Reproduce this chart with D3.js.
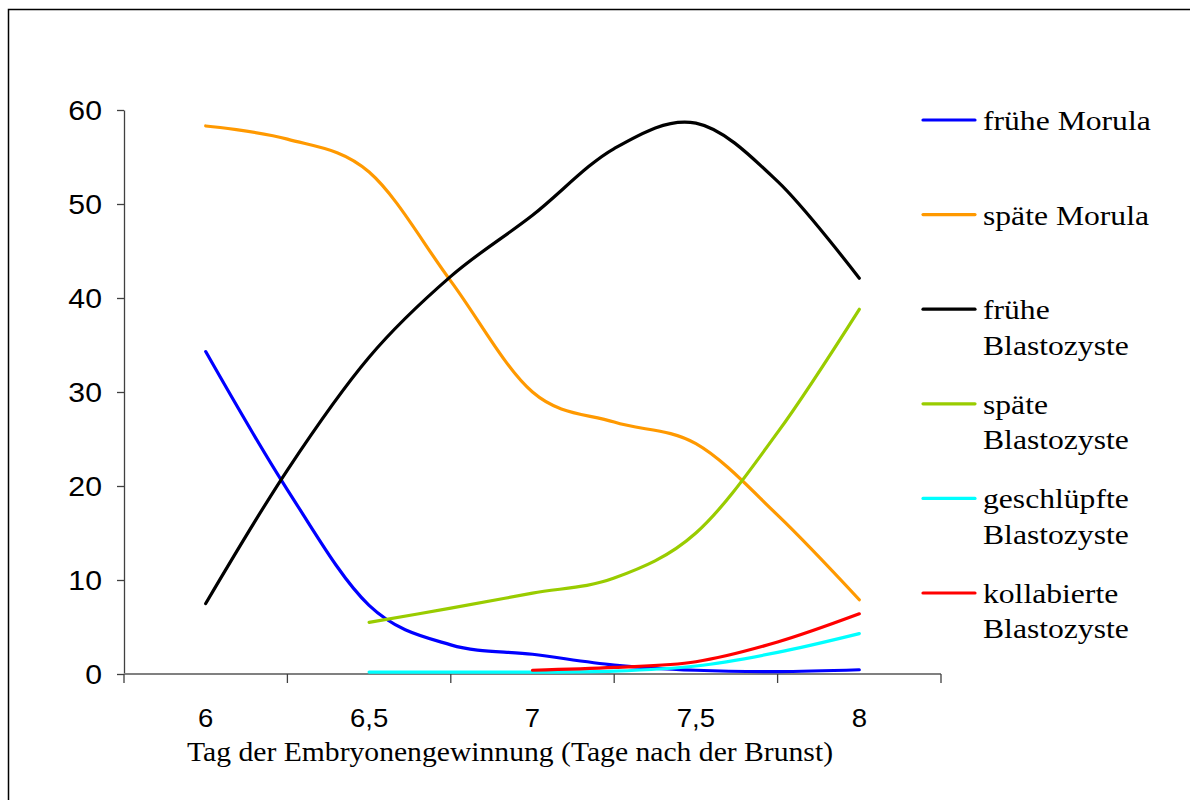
<!DOCTYPE html>
<html>
<head>
<meta charset="utf-8">
<script src="https://cdn.jsdelivr.net/npm/d3@7"></script>
<style>
  html, body { margin: 0; padding: 0; background: #fff; }
  svg { display: block; }
</style>
</head>
<body>
<svg id="chart" width="1190" height="800"></svg>
<script>
// Embryo stage shares (%) by day of recovery (days after oestrus)
const days = [6, 6.25, 6.5, 6.75, 7, 7.25, 7.5, 7.75, 8];
const dayTicks = [6, 6.5, 7, 7.5, 8];
const yTicks = [0, 10, 20, 30, 40, 50, 60];

const fruehMorula      = [34.3, 19.6, 7.3, 3.1, 2.1, 0.95, 0.4, 0.25, 0.45];
const spaetMorula      = [58.3, 56.9, 53.4, 41.8, 30.0, 26.8, 24.5, 16.9, 7.9];
const fruehBlastozyste = [7.5, 21.7, 33.7, 42.3, 48.8, 55.9, 58.6, 52.4, 42.1];
const spaetBlastozyste = [null, null, 5.5, 7.0, 8.6, 10.2, 15.0, 25.7, 38.8];
const geschluepft      = [null, null, 0.2, 0.2, 0.2, 0.3, 0.85, 2.3, 4.3];
const kollabiert       = [null, null, null, null, 0.4, 0.7, 1.3, 3.4, 6.4];

const seriesNames = [
  ["frühe Morula"],
  ["späte Morula"],
  ["frühe", "Blastozyste"],
  ["späte", "Blastozyste"],
  ["geschlüpfte", "Blastozyste"],
  ["kollabierte", "Blastozyste"]
];
const seriesValues = [fruehMorula, spaetMorula, fruehBlastozyste, spaetBlastozyste, geschluepft, kollabiert];
const seriesColors = ["#0000ff", "#ff9900", "#000000", "#99cc00", "#00ffff", "#ff0000"];

const svg = d3.select("#chart");
const serif = "'Liberation Serif', 'Times New Roman', serif";
const sans = "'Liberation Sans', Arial, sans-serif";

// outer frame
svg.append("rect")
  .attr("x", 8.5).attr("y", 9.5)
  .attr("width", 1300).attr("height", 1000)
  .attr("fill", "none").attr("stroke", "#000").attr("stroke-width", 1.5);

const x = d3.scaleLinear().domain([5.75, 8.25]).range([124, 941]);
const y = d3.scaleLinear().domain([0, 60]).range([674, 110]);

const de = d3.formatLocale({decimal: ",", thousands: ".", grouping: [3], currency: ["", " €"]});
const fmt = de.format("~g");

// y axis
const yAxis = svg.append("g")
  .attr("transform", "translate(124,0)")
  .call(d3.axisLeft(y).tickValues(yTicks).tickSize(7).tickPadding(15).tickSizeOuter(0));
yAxis.select(".domain").attr("stroke", "#404040").attr("stroke-width", 1.3);
yAxis.selectAll(".tick line").attr("stroke", "#404040").attr("stroke-width", 1.3);
yAxis.selectAll(".tick text")
  .attr("font-family", sans).attr("font-size", 27).attr("fill", "#000")
  .attr("x", 0).attr("dy", "0.36em")
  .attr("transform", "translate(-22,0) scale(1.12,1)");

// x axis: baseline with category separators, labels every half day
const xAxisG = svg.append("g").attr("transform", "translate(0,674)");
xAxisG.append("line")
  .attr("x1", x.range()[0]).attr("x2", x.range()[1])
  .attr("stroke", "#808080").attr("stroke-width", 2);
const sepTicks = d3.range(0, 6).map(i => 5.75 + i * 0.5);
xAxisG.selectAll("line.sep").data(sepTicks).join("line")
  .attr("class", "sep")
  .attr("x1", d => x(d)).attr("x2", d => x(d))
  .attr("y1", 0).attr("y2", 9)
  .attr("stroke", "#404040").attr("stroke-width", 1.3);
xAxisG.selectAll("text.lbl").data(dayTicks).join("text")
  .attr("class", "lbl")
  .attr("x", 0).attr("y", 0)
  .attr("transform", d => `translate(${x(d)},53) scale(1.1,1)`)
  .attr("text-anchor", "middle")
  .attr("font-family", sans).attr("font-size", 25)
  .text(d => fmt(d));

// x axis title
svg.append("text")
  .attr("x", 510).attr("y", 761)
  .attr("text-anchor", "middle")
  .attr("font-family", serif).attr("font-size", 27)
  .attr("textLength", 646).attr("lengthAdjust", "spacingAndGlyphs")
  .text("Tag der Embryonengewinnung (Tage nach der Brunst)");

// smoothed series lines
const line = d3.line()
  .defined(d => d.v !== null)
  .x(d => x(d.day))
  .y(d => y(d.v))
  .curve(d3.curveCardinal.tension(0));

seriesValues.forEach((vals, i) => {
  const pts = days.map((day, j) => ({day, v: vals[j]}));
  svg.append("path")
    .datum(pts)
    .attr("d", line)
    .attr("fill", "none")
    .attr("stroke", seriesColors[i])
    .attr("stroke-width", 3.2)
    .attr("stroke-linecap", "round")
    .attr("stroke-linejoin", "round");
});

// legend
const legendY = d3.scaleLinear().domain([0, 5]).range([120, 593]);
const legend = svg.append("g");
seriesNames.forEach((lines, i) => {
  const ly = legendY(i);
  legend.append("line")
    .attr("x1", 923).attr("x2", 975)
    .attr("y1", ly).attr("y2", ly)
    .attr("stroke", seriesColors[i]).attr("stroke-width", 3.2)
    .attr("stroke-linecap", "round");
  const t = legend.append("text")
    .attr("transform", `translate(983,${ly}) scale(1.13,1)`)
    .attr("font-family", serif).attr("font-size", 28).attr("fill", "#000");
  lines.forEach((s, k) => {
    t.append("tspan")
      .attr("x", 0).attr("y", 10 + k * 35.5)
      .text(s);
  });
});
</script>
</body>
</html>
